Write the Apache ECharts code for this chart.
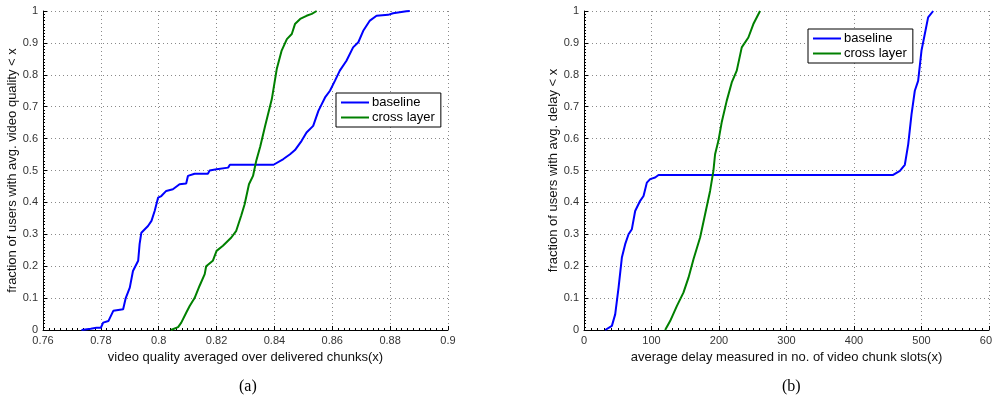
<!DOCTYPE html>
<html>
<head>
<meta charset="utf-8">
<script src="https://cdn.jsdelivr.net/npm/echarts@6/dist/echarts.min.js"></script>
<style>
  html, body { margin: 0; padding: 0; background: #fff; }
  #chart { width: 992px; height: 406px; }
</style>
</head>
<body>
<div id="chart"></div>
<script>
// legend entries
const seriesNames = ['baseline', 'cross layer']
const seriesColors = ['#0000ff', '#008000']

// (a) cdf of avg. video quality, [x, fraction]
const qualityBaseline = [
  [0.7733, 0], [0.7765, 0.004], [0.7785, 0.007], [0.7800, 0.007], [0.7808, 0.023], [0.7826, 0.028],
  [0.7843, 0.060], [0.7877, 0.065], [0.7886, 0.100], [0.7900, 0.133], [0.7911, 0.185], [0.7929, 0.217],
  [0.7934, 0.270], [0.7940, 0.305], [0.7963, 0.326], [0.7975, 0.342], [0.7986, 0.373], [0.7998, 0.415],
  [0.8009, 0.420], [0.8026, 0.436], [0.8049, 0.441], [0.8072, 0.457], [0.8095, 0.459], [0.8101, 0.483],
  [0.8124, 0.490], [0.8170, 0.490], [0.8176, 0.500], [0.8200, 0.504], [0.8240, 0.509], [0.8246, 0.518],
  [0.8397, 0.518], [0.8431, 0.536], [0.8454, 0.551], [0.8471, 0.564], [0.8494, 0.593], [0.8511, 0.619],
  [0.8534, 0.640], [0.8552, 0.687], [0.8575, 0.729], [0.8592, 0.750], [0.8609, 0.781], [0.8626, 0.813],
  [0.8649, 0.844], [0.8672, 0.886], [0.8690, 0.902], [0.8707, 0.938], [0.8730, 0.970], [0.8753, 0.985],
  [0.8793, 0.988], [0.8810, 0.993], [0.8856, 0.999], [0.8868, 1.0]
]
const qualityCross = [
  [0.8042, 0], [0.8067, 0.009], [0.8078, 0.023], [0.8095, 0.054], [0.8107, 0.075], [0.8124, 0.100],
  [0.8141, 0.138], [0.8159, 0.175], [0.8164, 0.200], [0.8187, 0.217], [0.8200, 0.248], [0.8222, 0.264],
  [0.8251, 0.290], [0.8268, 0.311], [0.8285, 0.358], [0.8297, 0.394], [0.8312, 0.457], [0.8326, 0.483],
  [0.8337, 0.530], [0.8351, 0.575], [0.8368, 0.640], [0.8391, 0.724], [0.8408, 0.818], [0.8425, 0.876],
  [0.8443, 0.912], [0.8460, 0.928], [0.8471, 0.959], [0.8489, 0.975], [0.8511, 0.985], [0.8529, 0.991],
  [0.8546, 1.0]
]

// (b) cdf of avg. delay in chunk slots
const delayBaseline = [
  [31.4, 0], [41.3, 0.013], [46.2, 0.049], [51.2, 0.133], [56.1, 0.227], [61.0, 0.269], [66.0, 0.300],
  [70.9, 0.316], [75.8, 0.373], [83.2, 0.405], [88.2, 0.420], [93.1, 0.462], [98.0, 0.473], [105.4, 0.478],
  [110.4, 0.486], [458, 0.486], [468, 0.499], [475.3, 0.518], [480.3, 0.582], [485.2, 0.676], [490.1, 0.750],
  [495, 0.781], [500, 0.876], [504.9, 0.928], [509.8, 0.980], [517.3, 1.0]
]
const delayCross = [
  [120.2, 0], [127.6, 0.028], [137.5, 0.075], [147.3, 0.117], [154.8, 0.164], [162.2, 0.222], [172, 0.290],
  [179.4, 0.363], [186.8, 0.436], [191.7, 0.499], [194.2, 0.551], [199.1, 0.593], [204, 0.651], [211.5, 0.719],
  [218.9, 0.776], [226.3, 0.813], [233.7, 0.886], [243.5, 0.917], [250.9, 0.959], [260.8, 1.0]
]

// axis ranges
const qualityRange = { min: 0.76, max: 0.9, interval: 0.02 }
const delayRange = { min: 0, max: 600, interval: 100 }
const fracRange = { min: 0, max: 1, interval: 0.1 }

const font = 'Liberation Sans, Arial, Helvetica, sans-serif'

// matlab-like axis look
function axisStyle(range, name, gap, idx) {
  return {
    type: 'value',
    gridIndex: idx,
    min: range.min,
    max: range.max,
    interval: range.interval,
    name: name,
    nameLocation: 'middle',
    nameGap: gap,
    nameTextStyle: { fontFamily: font, fontSize: 13, color: '#111' },
    axisLine: { show: true, onZero: false, lineStyle: { color: '#000', width: 1 } },
    axisTick: { show: true, inside: true, length: 4, lineStyle: { color: '#000' } },
    minorTick: { show: true, splitNumber: 10, length: 2, lineStyle: { color: '#000' } },
    axisLabel: { fontFamily: font, fontSize: 11, color: '#333', margin: 5 },
    splitLine: { show: true, lineStyle: { color: '#8a8a8a', type: [1, 3], width: 1 } }
  }
}

function legendAt(left, top) {
  return {
    data: seriesNames,
    orient: 'vertical',
    left: left,
    top: top,
    selectedMode: false,
    backgroundColor: '#fff',
    borderColor: '#000',
    borderWidth: 1,
    borderRadius: 0,
    padding: [3, 6, 3, 5],
    itemGap: 2,
    itemWidth: 28,
    itemHeight: 2,
    icon: 'rect',
    textStyle: { fontFamily: font, fontSize: 13, color: '#000', padding: [0, 0, 0, -2] }
  }
}

function lineSeries(name, data, idx) {
  const c = seriesColors[seriesNames.indexOf(name)]
  return {
    name: name,
    type: 'line',
    xAxisIndex: idx,
    yAxisIndex: idx,
    data: data,
    showSymbol: false,
    symbol: 'none',
    clip: true,
    lineStyle: { color: c, width: 2 },
    itemStyle: { color: c },
    z: 3
  }
}

const chart = echarts.init(document.getElementById('chart'), null, { renderer: 'canvas' })

chart.setOption({
  animation: false,
  backgroundColor: '#fff',
  grid: [
    { left: 43, top: 11, width: 405, height: 319, outerBoundsMode: 'none', containLabel: false },
    { left: 584, top: 11, width: 405, height: 319, outerBoundsMode: 'none', containLabel: false }
  ],
  xAxis: [
    axisStyle(qualityRange, 'video quality averaged over delivered chunks(x)', 13, 0),
    axisStyle(delayRange, 'average delay measured in no. of video chunk slots(x)', 13, 1)
  ],
  yAxis: [
    axisStyle(fracRange, 'fraction of users with avg. video quality < x', 21, 0),
    axisStyle(fracRange, 'fraction of users with avg. delay < x', 21, 1)
  ],
  legend: [legendAt(336, 93), legendAt(808, 29)],
  graphic: [
    { type: 'text', left: 239, top: 379, style: { text: '(a)', font: '16px "Liberation Serif", "Times New Roman", serif', fill: '#000' } },
    { type: 'text', left: 782, top: 379, style: { text: '(b)', font: '16px "Liberation Serif", "Times New Roman", serif', fill: '#000' } }
  ],
  series: [
    lineSeries('baseline', qualityBaseline, 0),
    lineSeries('cross layer', qualityCross, 0),
    lineSeries('baseline', delayBaseline, 1),
    lineSeries('cross layer', delayCross, 1)
  ]
})
</script>
</body>
</html>
